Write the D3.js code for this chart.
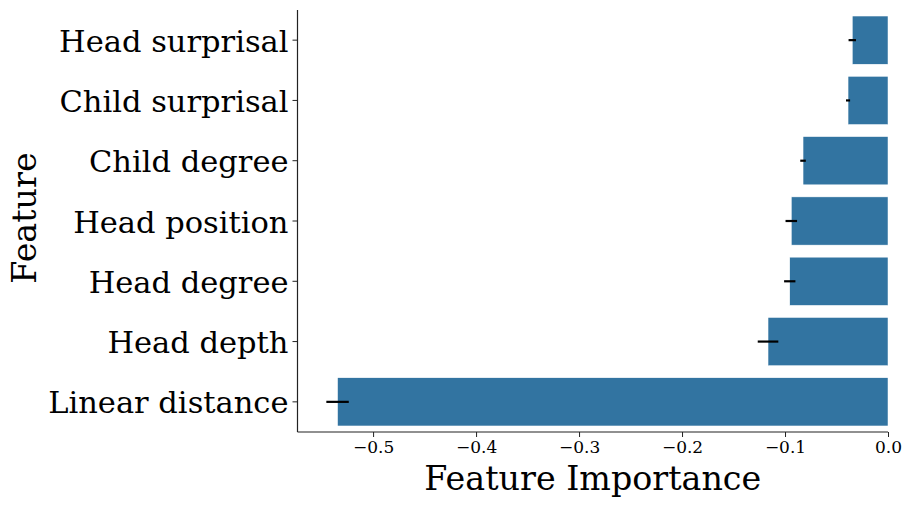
<!DOCTYPE html>
<html><head><meta charset="utf-8">
<script src="https://cdn.jsdelivr.net/npm/d3@7"></script>
<style>body{margin:0;background:#fff}svg{display:block}</style>
</head><body>
<script>
const features = ["Head surprisal","Child surprisal","Child degree","Head position","Head degree","Head depth","Linear distance"];
const importance = [-0.0347,-0.0388,-0.0825,-0.0939,-0.0954,-0.1165,-0.5345];
const errors = [0.0036,0.0020,0.0027,0.0056,0.0055,0.0100,0.0109];
const xTicks = [-0.5,-0.4,-0.3,-0.2,-0.1,0.0];

const W=914,H=508;
const m={left:297.5,right:26,top:10,bottom:76};
const svg=d3.select("body").append("svg").attr("width",W).attr("height",H);
const font="DejaVu Serif";
const x=d3.scaleLinear().domain([-0.5734,0.0]).range([m.left,888]);
const y=d3.scaleBand().domain(features).range([m.top,H-m.bottom]).paddingInner(0.2).paddingOuter(0.1);

svg.append("g").selectAll("rect").data(features).join("rect")
 .attr("x",(d,i)=>x(importance[i])).attr("y",d=>y(d))
 .attr("width",(d,i)=>x(0)-x(importance[i])).attr("height",y.bandwidth())
 .attr("fill","#3274a1").attr("stroke","#ffffff").attr("stroke-width",0.5);

svg.append("g").selectAll("line").data(features).join("line")
 .attr("x1",(d,i)=>x(importance[i]-errors[i])).attr("x2",(d,i)=>x(importance[i]+errors[i]))
 .attr("y1",d=>y(d)+y.bandwidth()/2).attr("y2",d=>y(d)+y.bandwidth()/2)
 .attr("stroke","#000").attr("stroke-width",2.2);

const xa=svg.append("g").attr("transform",`translate(0,${H-m.bottom})`)
 .call(d3.axisBottom(x).tickValues(xTicks).tickFormat(d=>d3.format(".1f")(d).replace("-","\u2212")).tickSize(5).tickSizeOuter(0).tickPadding(4));
xa.select(".domain").attr("d",`M${m.left},0H888`).attr("stroke","#222").attr("stroke-width",1.2);
xa.selectAll("text").attr("font-family",font).attr("font-size",17).attr("fill","#000");
xa.selectAll(".tick line").attr("stroke","#222");

const ya=svg.append("g").attr("transform",`translate(${m.left},0)`)
 .call(d3.axisLeft(y).tickSize(5).tickSizeOuter(0).tickPadding(4));
ya.select(".domain").attr("d",`M0,${m.top}V${H-m.bottom}`).attr("stroke","#222").attr("stroke-width",1.2);
ya.selectAll("text").attr("font-family",font).attr("font-size",30.5).attr("fill","#000").attr("dy","0.38em");
ya.selectAll(".tick line").attr("stroke","#222");

svg.append("text").attr("x",(m.left+888)/2).attr("y",490).attr("text-anchor","middle")
 .attr("font-family",font).attr("font-size",33.3).text("Feature Importance");
svg.append("text").attr("transform",`translate(36,218) rotate(-90)`).attr("text-anchor","middle")
 .attr("font-family",font).attr("font-size",33.3).text("Feature");
</script>
</body></html>
